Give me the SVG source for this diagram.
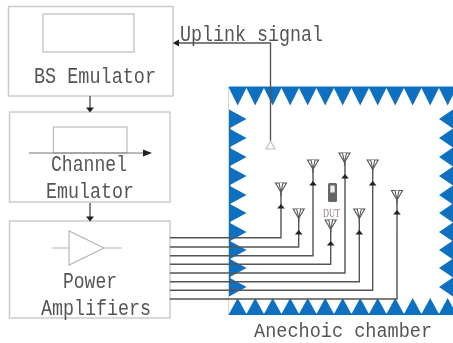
<svg xmlns="http://www.w3.org/2000/svg" width="453" height="343" viewBox="0 0 453 343">
<style>
.box{fill:#fff;stroke:#c9c9c9;stroke-width:1.4}
.thin{fill:none;stroke:#b5b5b5;stroke-width:1.1}
.t{font-family:"Liberation Mono","DejaVu Sans Mono",monospace;font-size:22px;fill:#555;text-anchor:middle}
.c{fill:none;stroke:#555;stroke-width:1.4}
.b{fill:#0f6fc0}
.ah{fill:#222}
.ant{fill:#fff;stroke:#555;stroke-width:1.1}
</style>
<defs>
<filter id="soft" x="0" y="0" width="100%" height="100%" filterUnits="userSpaceOnUse"><feGaussianBlur stdDeviation="0.45"/></filter>
<path id="lt" class="b" d="M0-9.500L17.500 0L0 9.500Z"/>
<path id="rt" class="b" d="M14-9.500L0 0L14 9.500Z"/>
<path id="tt" class="b" d="M-9 0L9 0L0 18Z"/>
<path id="bt" class="b" d="M-9 0L9 0L0-16.500Z"/>
<g id="antenna"><path class="ant" d="M-5.500 0H5.500L0 9.500Z"/><path class="ant" d="M-2 0L0 9.500L2 0M0 9.500V13"/></g>
<path id="up" class="ah" d="M0-3 L3.800 1.500H-3.800Z"/>
</defs>
<rect width="453" height="343" fill="#fff"/>
<g filter="url(#soft)">
<g id="chamber">
<path d="M228.500 87V314.500" stroke="#d5d5d5" stroke-width="1" fill="none"/>
<rect x="229" y="86.500" width="224" height="1.500" class="b"/>
<rect x="229" y="313.500" width="224" height="1.500" class="b"/>
<rect x="229" y="110" width="1.500" height="186" class="b"/>
<g id="top-wedges"><use href="#tt" x="237.700" y="87.500"/><use href="#tt" x="255.200" y="87.500"/><use href="#tt" x="272.700" y="87.500"/><use href="#tt" x="290.200" y="87.500"/><use href="#tt" x="307.700" y="87.500"/><use href="#tt" x="325.200" y="87.500"/><use href="#tt" x="342.700" y="87.500"/><use href="#tt" x="360.200" y="87.500"/><use href="#tt" x="377.700" y="87.500"/><use href="#tt" x="395.200" y="87.500"/><use href="#tt" x="412.700" y="87.500"/><use href="#tt" x="430.200" y="87.500"/><use href="#tt" x="447.700" y="87.500"/></g>
<g id="bottom-wedges"><use href="#bt" x="237.700" y="314.500"/><use href="#bt" x="255.200" y="314.500"/><use href="#bt" x="272.700" y="314.500"/><use href="#bt" x="290.200" y="314.500"/><use href="#bt" x="307.700" y="314.500"/><use href="#bt" x="325.200" y="314.500"/><use href="#bt" x="342.700" y="314.500"/><use href="#bt" x="360.200" y="314.500"/><use href="#bt" x="377.700" y="314.500"/><use href="#bt" x="395.200" y="314.500"/><use href="#bt" x="412.700" y="314.500"/><use href="#bt" x="430.200" y="314.500"/><use href="#bt" x="447.700" y="314.500"/></g>
<g id="left-wedges"><use href="#lt" x="229" y="119"/><use href="#lt" x="229" y="138"/><use href="#lt" x="229" y="157"/><use href="#lt" x="229" y="176"/><use href="#lt" x="229" y="195"/><use href="#lt" x="229" y="213"/><use href="#lt" x="229" y="232"/><use href="#lt" x="229" y="250"/><use href="#lt" x="229" y="268"/><use href="#lt" x="229" y="287"/></g>
<g id="right-wedges"><use href="#rt" x="439" y="119"/><use href="#rt" x="439" y="138"/><use href="#rt" x="439" y="157"/><use href="#rt" x="439" y="176"/><use href="#rt" x="439" y="195"/><use href="#rt" x="439" y="213"/><use href="#rt" x="439" y="232"/><use href="#rt" x="439" y="250"/><use href="#rt" x="439" y="268"/><use href="#rt" x="439" y="287"/></g>
<text class="t" style="font-size:20px" x="343" y="337" textLength="178" lengthAdjust="spacingAndGlyphs">Anechoic chamber</text>
</g>
<g id="bs-emulator">
<rect class="box" x="8.500" y="6.500" width="164.500" height="89.500"/>
<rect class="thin" x="43" y="14" width="91" height="38"/>
<text class="t" x="95" y="83" textLength="122" lengthAdjust="spacingAndGlyphs">BS Emulator</text>
</g>
<g id="channel-emulator">
<rect class="box" x="9.500" y="112" width="160.500" height="90"/>
<rect class="thin" x="53.500" y="127" width="73.500" height="26"/>
<path d="M29 153H145" stroke="#777" stroke-width="1" fill="none"/>
<path class="ah" d="M143 149.500L152 153L143 156.500Z"/>
<text class="t" x="89" y="171" textLength="76" lengthAdjust="spacingAndGlyphs">Channel</text>
<text class="t" x="90" y="198" textLength="88" lengthAdjust="spacingAndGlyphs">Emulator</text>
</g>
<g id="power-amplifiers">
<rect class="box" x="9.500" y="221" width="160.500" height="97"/>
<path class="thin" d="M69 231V265L104 248ZM52 248H69M104 248H122"/>
<text class="t" x="90" y="288" textLength="54" lengthAdjust="spacingAndGlyphs">Power</text>
<text class="t" x="96" y="315" textLength="110" lengthAdjust="spacingAndGlyphs">Amplifiers</text>
</g>
<g id="dut">
<rect x="328" y="183" width="9" height="19" rx="1.500" fill="#666"/>
<rect x="330.300" y="185.500" width="4.400" height="7" fill="#eee"/>
<text x="331.500" y="217" font-family="Liberation Serif,serif" font-size="12" textLength="17" lengthAdjust="spacingAndGlyphs" fill="#9b7f88" text-anchor="middle">DUT</text>
</g>
<g id="connectors">
<path class="c" d="M90 96V108M90 203V217"/>
<path class="ah" d="M86 107.500H94L90 112.500ZM86 216.500H94L90 221.500Z"/>
<path class="c" d="M270.500 141V43H176"/>
<path class="ah" d="M179 39.500V46.500L172.800 43Z"/>
<path class="c" d="M170 237.700H281V192M170 247H298.700V218M170 255.700H313V169M170 264.300H330.700V229M170 273H345V162M170 281.700H359.300V218M170 290.300H372.700V169M170 299H397V200"/>
<use href="#up" x="281" y="207"/><use href="#up" x="298.700" y="233"/><use href="#up" x="313" y="184"/><use href="#up" x="330.700" y="244"/><use href="#up" x="345" y="177"/><use href="#up" x="359.300" y="233"/><use href="#up" x="372.700" y="184"/><use href="#up" x="397" y="213"/>
<text class="t" x="251.500" y="41" textLength="143" lengthAdjust="spacingAndGlyphs">Uplink signal</text>
</g>
<g id="antennas">
<use href="#antenna" x="281" y="183"/><use href="#antenna" x="298.700" y="209"/><use href="#antenna" x="313" y="160"/><use href="#antenna" x="330.700" y="220"/><use href="#antenna" x="344.500" y="153"/><use href="#antenna" x="359.300" y="209"/><use href="#antenna" x="372.700" y="160"/><use href="#antenna" x="397" y="190.500"/>
<path d="M266 149H275L270.500 141Z" fill="#fff" stroke="#bbb" stroke-width="1.100"/>
</g>
</g>
</svg>
